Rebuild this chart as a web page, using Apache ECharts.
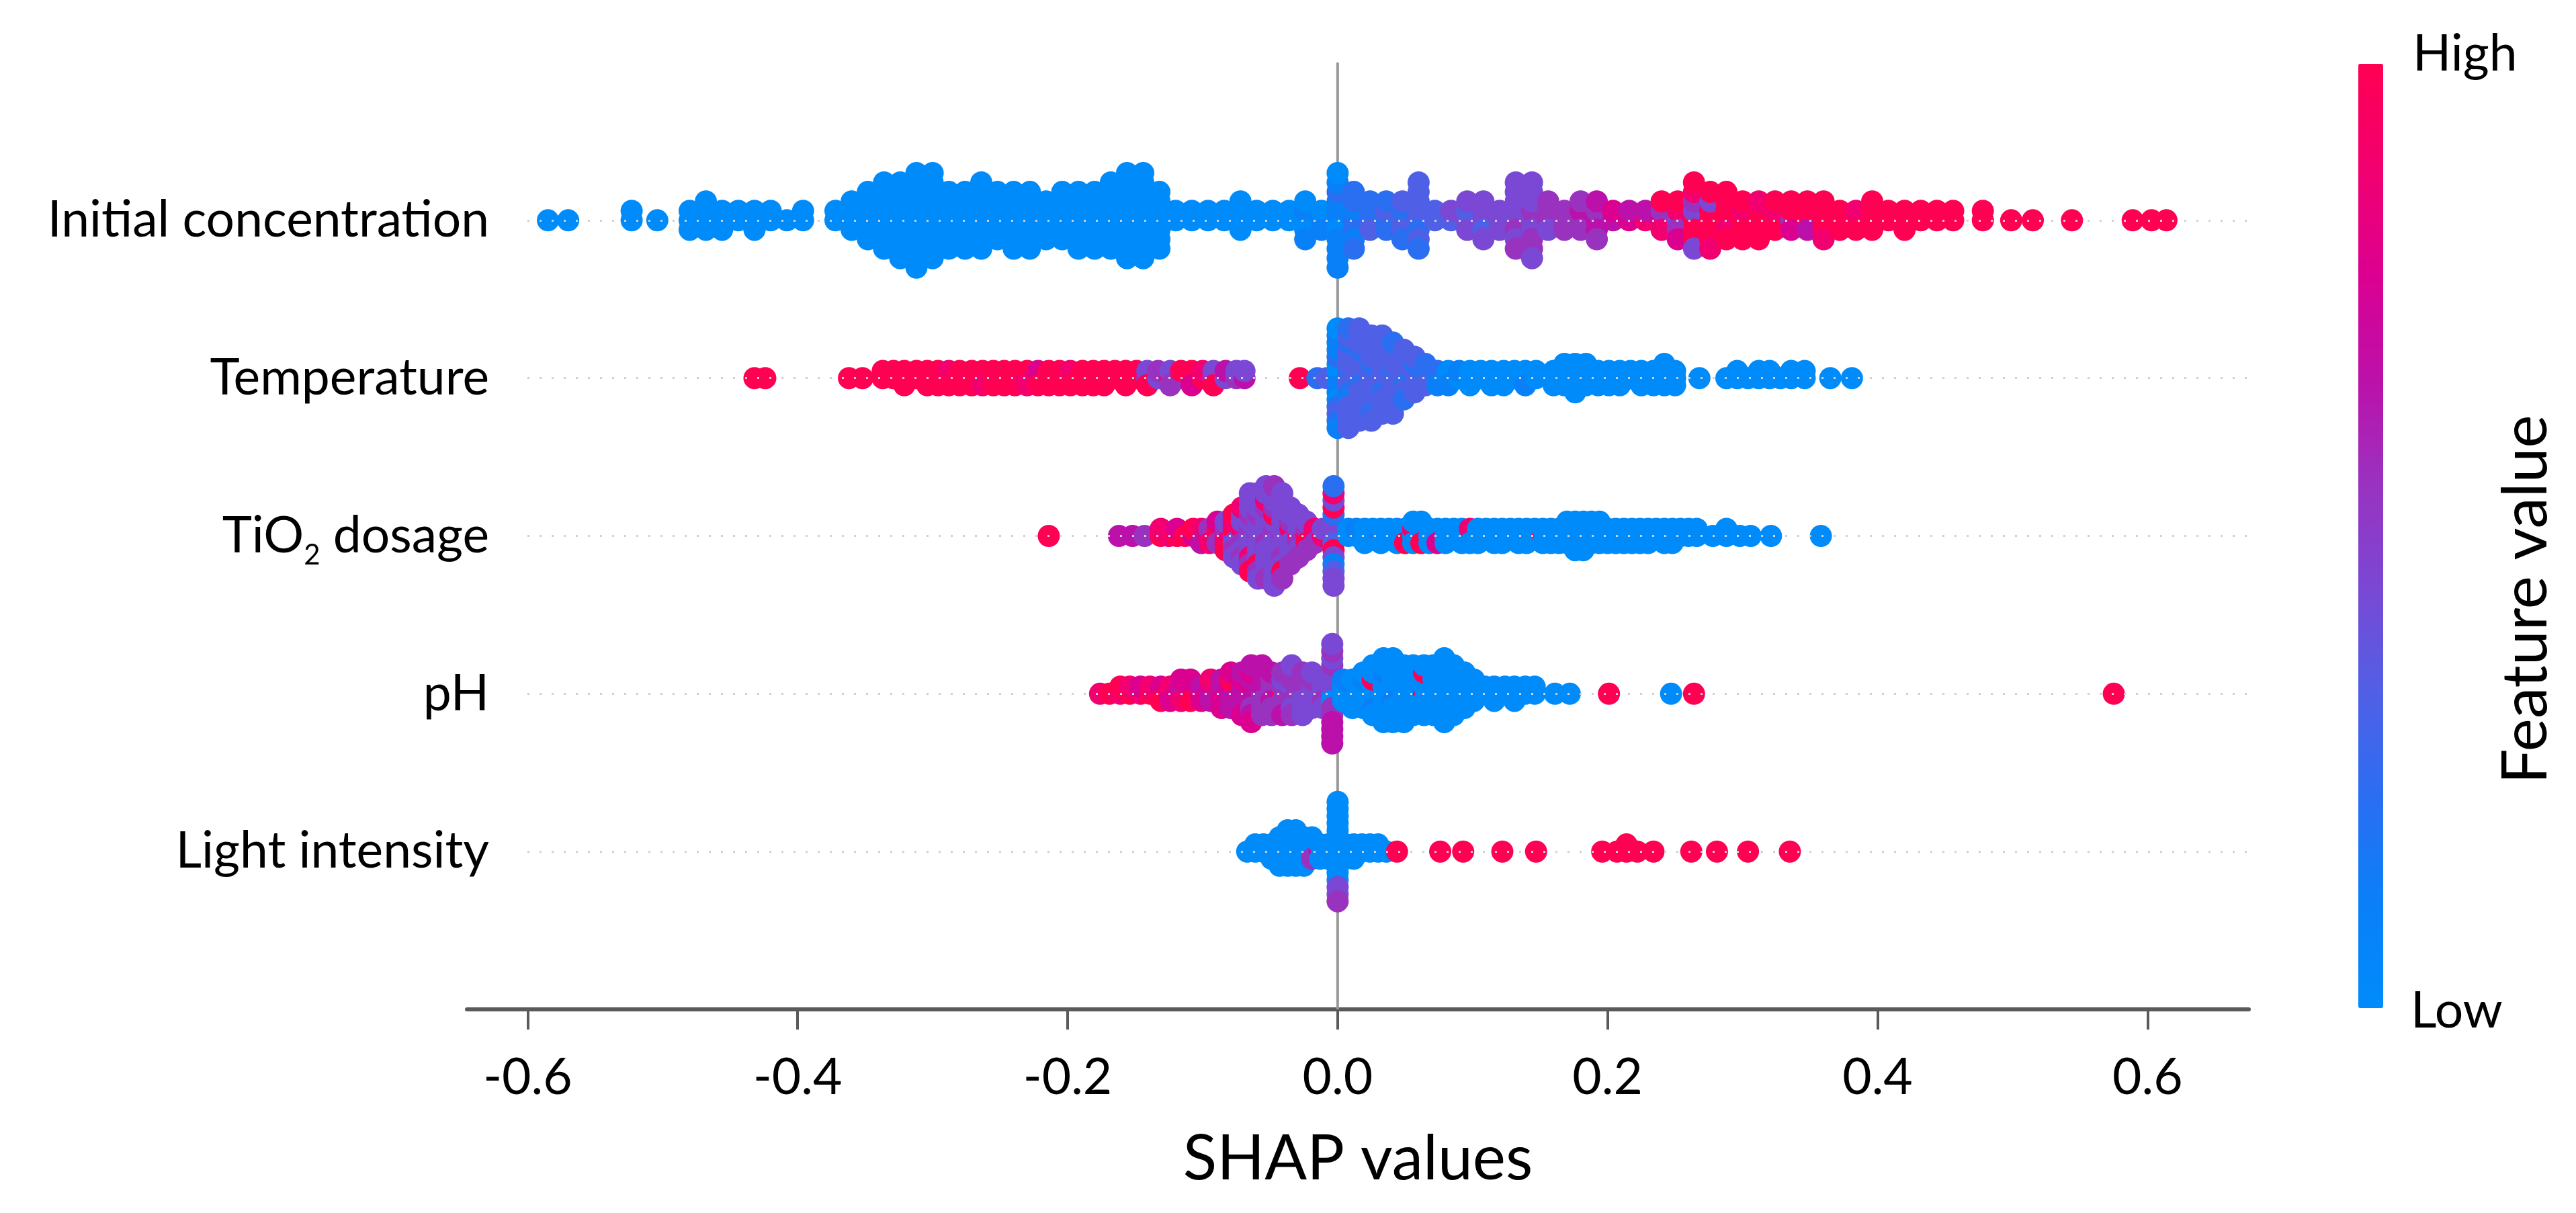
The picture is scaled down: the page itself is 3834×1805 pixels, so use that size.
<!DOCTYPE html>
<html><head><meta charset="utf-8">
<script src="https://cdn.jsdelivr.net/npm/echarts@6/dist/echarts.min.js"></script>
<style>html,body{margin:0;padding:0;background:#fff}#main{width:3834px;height:1805px}</style>
</head><body><div id="main"></div>
<script>
// Feature names, top to bottom
const features = ['Initial concentration', 'Temperature', 'TiO2 dosage', 'pH', 'Light intensity'];
// X tick labels
const xTicks = [-0.6, -0.4, -0.2, 0, 0.2, 0.4, 0.6];
// Colour scale Low (0) -> High (9)
const featureColors = ['#008bfb', '#0a80f8', '#2a6ef2', '#5060e6', '#7a48d4', '#9a32c0', '#bc10aa', '#dc0090', '#f20070', '#ff0052'];

// Each entry: [SHAP value, [feature value level (0 low .. 9 high) of every sample with that SHAP value]]
const initialConcentration = [
  [-0.585,[0]],[-0.570,[0]],[-0.523,[0,0]],[-0.504,[0]],
  [-0.480,[0,0,0]],[-0.468,[0,0,0,0]],[-0.456,[0,0,0]],[-0.444,[0,0]],[-0.432,[0,0,0]],[-0.420,[0,0]],
  [-0.408,[0]],[-0.396,[0,0]],
  [-0.372,[0,0]],[-0.360,[0,0,0,0]],[-0.348,[0,0,0,0,0,0]],[-0.336,[0,0,0,0,0,0,0,0]],
  [-0.324,[0,0,0,0,0,0,0,0,0]],[-0.312,[0,0,0,0,0,0,0,0,0,0,0]],[-0.300,[0,0,0,0,0,0,0,0,0,0]],
  [-0.288,[0,0,0,0,0,0,0]],[-0.276,[0,0,0,0,0,0,0]],[-0.264,[0,0,0,0,0,0,0,0]],[-0.252,[0,0,0,0,0,0]],
  [-0.240,[0,0,0,0,0,0,0]],[-0.228,[0,0,0,0,0,0,0]],[-0.216,[0,0,0,0,0]],[-0.204,[0,0,0,0,0,0]],
  [-0.192,[0,0,0,0,0,0,0]],[-0.180,[0,0,0,0,0,0,0]],[-0.168,[0,0,0,0,0,0,0,0]],[-0.156,[0,0,0,0,0,0,0,0,0,0]],
  [-0.144,[0,0,0,0,0,0,0,0,0,0]],[-0.132,[0,0,0,0,0,0,0]],
  [-0.120,[0,0]],[-0.108,[0,0]],[-0.096,[0,0]],[-0.084,[0,0]],[-0.072,[0,0,0,0]],[-0.060,[0,0]],
  [-0.048,[0,0]],[-0.036,[0,0]],[-0.024,[0,1,0,0,1]],[-0.012,[1,0,1]],
  [0.000,[1,1,0,1,1,2,1,1,1,0,1]],
  [0.012,[2,1,2,2,1,2,2]],[0.024,[2,2,3,2]],[0.036,[2,3,2,2]],[0.048,[3,2,3,3,2]],[0.060,[3,3,2,3,3,3,2,3]],
  [0.072,[3,3]],[0.084,[3,4]],[0.096,[4,3,4,4]],[0.108,[4,4,3,4,4]],[0.120,[4,4,4]],
  [0.132,[4,4,5,4,4,4,5,4]],[0.144,[4,5,4,4,5,4,5,4,4]],[0.156,[5,5,4,5]],[0.168,[5,5,5]],
  [0.180,[5,6,5,5]],[0.192,[6,5,6,6,5]],[0.204,[6,7]],[0.216,[7,6]],[0.228,[8,6]],
  [0.240,[7,5,8,9]],[0.252,[4,8,5,9,7]],[0.264,[9,4,9,5,9,8,4,9]],[0.276,[9,9,9,4,9,9,8]],
  [0.288,[9,9,8,9,9,9]],[0.300,[9,8,9,9,9]],[0.312,[9,9,9,8,9]],[0.324,[9,8,9,9]],
  [0.336,[5,9,7,9]],[0.348,[9,9,6,9]],[0.360,[9,9,9,9,8]],[0.372,[9,9,9]],[0.384,[9,8,9]],
  [0.396,[9,9,9,9]],[0.408,[9,9]],[0.420,[9,9,9]],[0.432,[9,9]],[0.444,[9,9]],[0.456,[9,9]],
  [0.478,[9,9]],[0.499,[9]],[0.515,[9]],[0.544,[9]],[0.589,[9]],[0.603,[9]],[0.614,[9]]
];

const temperature = [
  [-0.432,[9]],[-0.424,[9]],[-0.362,[9]],[-0.352,[9]],
  [-0.337,[9,9]],[-0.329,[9,9]],[-0.321,[9,9,9]],[-0.312,[9,9]],[-0.304,[9,9,9]],[-0.296,[9,9,9]],
  [-0.288,[9,8,9]],[-0.280,[9,9,9]],[-0.271,[9,9,9]],[-0.263,[9,9,8]],[-0.255,[9,9,9]],[-0.247,[8,9,9]],
  [-0.239,[9,9,9]],[-0.230,[7,9,8]],[-0.222,[8,7,9]],[-0.214,[9,9,9]],[-0.206,[9,9,9]],[-0.198,[9,8,9]],
  [-0.189,[9,9,9]],[-0.181,[9,9,9]],[-0.173,[9,9,9]],[-0.165,[9,9]],[-0.157,[9,9,9]],[-0.149,[9,9]],
  [-0.141,[5,4,9]],[-0.133,[4,5]],[-0.124,[9,4,5]],[-0.116,[5,9]],[-0.108,[9,9,7]],[-0.100,[9,8]],
  [-0.092,[5,4,9]],[-0.083,[4,6]],[-0.075,[5,4]],[-0.069,[6,4]],
  [-0.028,[9]],[-0.015,[2]],[-0.008,[3]],
  [0.000,[1,0,1,0,1,2,0,1,2,1,3,1,2,0,1]],
  [0.008,[3,2,3,3,2,3,1,3,3,2,3,3,3,2,3]],
  [0.016,[3,3,2,3,3,3,3,2,3,3,3,3,3,3]],
  [0.025,[3,3,3,2,3,3,3,3,3,3,2,3,3]],
  [0.033,[3,3,3,3,2,3,3,3,3,3,3,3]],
  [0.041,[3,2,3,3,3,3,3,3,3,2,3]],
  [0.049,[3,3,2,3,3,3,2,3]],[0.057,[2,3,3,2,3,3]],[0.065,[2,2,3,2]],[0.074,[1,2,1]],
  [0.082,[0,0,1]],[0.090,[0,1]],[0.098,[0,0,0]],[0.106,[0,0]],[0.114,[1,0,0]],[0.123,[0,0,0]],
  [0.131,[0,0]],[0.139,[0,0,1]],[0.147,[0,0]],
  [0.160,[0,0,0]],[0.168,[0,0,0,0]],[0.176,[0,0,0,0,0]],[0.184,[0,0,0,0]],[0.193,[0,0,0]],
  [0.201,[0,0,0]],[0.209,[0,0,0]],[0.217,[0,0]],[0.225,[0,0,0]],[0.234,[0,0,0]],[0.242,[0,0,0,0]],
  [0.250,[0,0,0]],[0.268,[0]],
  [0.288,[0]],[0.296,[0,0]],[0.304,[0]],[0.312,[0,0]],[0.320,[0,0]],[0.328,[0]],[0.336,[0,0]],[0.346,[0,0]],
  [0.365,[0]],[0.381,[0]]
];

const tio2Dosage = [
  [-0.214,[9]],
  [-0.162,[6]],[-0.152,[6]],[-0.143,[5]],
  [-0.131,[9,8]],[-0.125,[8]],[-0.119,[9,7]],[-0.113,[9]],[-0.107,[7,9]],[-0.101,[9,8,6]],[-0.095,[9,5,8]],
  [-0.089,[8,9,5,7]],
  [-0.083,[9,5,8,4,9]],
  [-0.077,[5,9,4,8,5,9,4]],
  [-0.071,[4,8,5,4,4,4,5,8,4]],
  [-0.065,[4,5,4,4,4,5,8,4,5,4,9,4]],
  [-0.059,[5,4,4,4,4,5,4,4,9,4,5,4,4]],
  [-0.053,[4,4,5,4,4,4,4,5,4,8,4,4,5,4]],
  [-0.047,[4,5,4,4,4,9,4,5,4,4,4,4,4,5,4]],
  [-0.041,[5,4,4,4,4,4,5,4,4,4,9,4,5]],
  [-0.035,[4,8,4,5,4,4,4,4,5]],
  [-0.029,[9,4,5,4,4,4,5]],
  [-0.023,[8,5,9,4,5]],
  [-0.017,[9,8,5]],
  [-0.011,[8,4]],
  [-0.003,[4,4,3,4,9,2,4,9,1,4,3,8,4,2,4]],
  [0.008,[0,0]],[0.014,[0,1]],[0.020,[0,0,0]],[0.026,[0,0]],[0.032,[1,0,0]],[0.038,[0,0]],
  [0.044,[0,0,0]],[0.050,[0,0,9]],[0.056,[0,8,0,0]],[0.062,[0,0,9,0]],[0.068,[0,0,0]],[0.074,[0,0,7]],
  [0.080,[0,0,0]],[0.086,[0,0]],[0.092,[0,0,0]],[0.098,[0,8,0]],[0.104,[0,0,0]],[0.110,[0,0]],
  [0.116,[0,0,0]],[0.122,[0,0,0]],[0.128,[0,0]],[0.134,[0,0,0]],[0.140,[0,0,0]],[0.146,[0,0]],
  [0.152,[9,0,0]],[0.158,[0,0,0]],[0.164,[0,0,0]],[0.170,[0,0,0,0]],[0.176,[0,0,0,0,0]],
  [0.182,[0,0,0,0,0]],[0.188,[0,0,0,0]],[0.194,[0,0,0,0]],[0.200,[0,0,0]],[0.206,[0,0,0]],
  [0.212,[0,0,0]],[0.218,[0,0,0]],[0.224,[0,0,0]],[0.230,[0,0,0]],[0.236,[0,0]],[0.242,[0,0,0]],
  [0.248,[0,0,0]],[0.254,[0,0]],[0.260,[0,0]],[0.266,[0,0]],
  [0.278,[0]],[0.288,[0,0]],[0.298,[0]],[0.306,[0]],[0.321,[0]],[0.358,[0]]
];

const pH = [
  [-0.176,[8]],[-0.169,[9]],[-0.161,[8,9]],[-0.154,[9,8]],[-0.146,[8,7]],[-0.139,[9,8]],
  [-0.131,[8,7,9]],[-0.124,[7,8,7]],[-0.116,[7,6,8,7]],[-0.109,[6,7,9,7]],[-0.101,[7,6,7]],
  [-0.094,[6,7,6,8]],[-0.086,[9,6,7,6,7]],[-0.079,[6,7,6,9,6,7]],[-0.071,[7,6,6,7,6,6,7]],
  [-0.064,[6,7,6,6,5,7,6,6,7]],[-0.056,[5,6,5,6,5,6,5,6]],[-0.049,[5,5,6,5,5,6,5]],
  [-0.041,[9,5,5,4,5,5,6]],[-0.034,[5,4,5,5,4,5,5,4]],[-0.026,[4,5,4,5,4,5,4]],
  [-0.019,[5,4,4,5,4,4]],[-0.011,[4,4,5,4,4]],
  [-0.004,[1,4,0,4,5,4,5,5,6,4,6,5,6,4,6]],
  [0.004,[1,0,0,1]],[0.011,[0,1,0,0,0]],[0.019,[0,0,0,1,0,0]],[0.026,[0,0,0,9,1,0,0,0]],
  [0.034,[0,0,0,0,0,1,0,0,0,0]],[0.041,[0,0,1,0,0,0,0,0,0,0]],[0.049,[0,0,0,0,0,0,0,0,0]],
  [0.056,[0,0,0,0,0,0,0,0]],[0.064,[9,0,0,0,0,9,0,0]],[0.071,[0,0,0,0,0,0,0,0]],
  [0.079,[0,0,0,0,0,0,0,0,0,0]],[0.086,[0,0,0,0,0,0,0,0]],[0.094,[0,0,0,0,0,0]],
  [0.101,[0,0,0,0]],[0.109,[0,0]],[0.116,[0,0,0]],[0.124,[0,0]],[0.131,[0,0,0]],[0.139,[0,0]],[0.146,[0,0]],
  [0.161,[0]],[0.172,[0]],[0.201,[9]],[0.247,[0]],[0.264,[9]],[0.575,[9]]
];

const lightIntensity = [
  [-0.067,[0]],[-0.061,[0,0]],[-0.055,[0,0]],[-0.049,[0,0,0]],[-0.043,[0,0,0,0,0]],
  [-0.037,[0,0,0,0,0,0]],[-0.031,[0,0,0,0,0,0]],[-0.025,[0,0,0,0,0]],[-0.019,[0,0,5,0]],
  [-0.013,[7,0,0]],[-0.007,[0,0,0]],
  [0.000,[0,0,0,0,0,0,0,0,0,0,4,0,4,0,5]],
  [0.006,[0,0,0]],[0.012,[0,0,0]],[0.018,[0,0]],[0.024,[0,0]],[0.030,[0,0]],[0.036,[0]],
  [0.044,[9]],[0.076,[9]],[0.093,[9]],[0.122,[9]],[0.147,[9]],[0.196,[9]],[0.207,[9]],
  [0.214,[9,9]],[0.222,[9]],[0.234,[9]],[0.262,[9]],[0.281,[9]],[0.304,[9]],[0.335,[9]]
];

const featureData = [initialConcentration, temperature, tio2Dosage, pH, lightIntensity];

// SHAP-style beeswarm layering of samples that share a SHAP value
function beeswarm(groups, pos) {
  const pts = [];
  let maxUp = 0;
  groups.forEach(([x, levels]) => {
    levels.forEach((lv, layer) => {
      const ys = Math.ceil(layer / 2) * ((layer % 2) * 2 - 1);
      if (ys > maxUp) maxUp = ys;
      pts.push([x, ys, lv]);
    });
  });
  const k = 0.9 * 0.4 / (maxUp + 1);
  return pts.map(([x, ys, lv]) => [x, pos + ys * k, lv]);
}

const FONT = 'Lato, "Open Sans", sans-serif';
const n = features.length;
const scatterSeries = featureData.map((groups, i) => ({
  type: 'scatter',
  name: features[i],
  data: beeswarm(groups, n - 1 - i),
  symbol: 'circle',
  symbolSize: 33,
  itemStyle: { opacity: 1 },
  z: 2,
  silent: true
}));

const chart = echarts.init(document.getElementById('main'));
chart.setOption({
  animation: false,
  backgroundColor: '#ffffff',
  grid: { left: 695, right: 487, top: 93, bottom: 303 },
  xAxis: {
    type: 'value', min: -0.645, max: 0.675,
    axisLine: { show: true, onZero: false, lineStyle: { color: '#5a5a5a', width: 6 } },
    axisTick: { show: true, length: 30, customValues: xTicks, lineStyle: { color: '#5a5a5a', width: 4 } },
    axisLabel: { customValues: xTicks, formatter: v => Number(v).toFixed(1), fontFamily: FONT, fontSize: 75, color: '#000', margin: 64 },
    splitLine: { show: false },
    name: 'SHAP values', nameLocation: 'middle', nameGap: 176,
    nameTextStyle: { fontFamily: FONT, fontSize: 93, color: '#000' }
  },
  yAxis: {
    type: 'value', min: -1, max: n, interval: 1, z: 3,
    axisLine: { show: false }, axisTick: { show: false },
    splitLine: { show: true, showMinLine: false, showMaxLine: false, lineStyle: { color: '#d0d0d0', width: 3, type: [3, 15] } },
    axisLabel: {
      customValues: [0, 1, 2, 3, 4],
      formatter: v => {
        const name = features[n - 1 - v];
        return name ? name.replace('TiO2', 'TiO{sub|2}') : '';
      },
      fontFamily: FONT, fontSize: 75, color: '#000', lineHeight: 100,
      backgroundColor: '#ffffff', padding: [0, 54, 0, 0], margin: -87,
      rich: { sub: { fontFamily: FONT, fontSize: 42, lineHeight: 42, verticalAlign: 'bottom', color: '#000' } }
    }
  },
  visualMap: {
    type: 'continuous', min: 0, max: 9, dimension: 2,
    seriesIndex: [1, 2, 3, 4, 5],
    orient: 'vertical', left: 3510, top: 95, itemWidth: 37, itemHeight: 1405,
    calculable: false, hoverLink: false, padding: 0,
    inRange: { color: featureColors }
  },
  graphic: [
    { type: 'text', x: 3591, y: 81, style: { text: 'High', font: '75px ' + FONT, fill: '#000', textAlign: 'left', textVerticalAlign: 'middle', align: 'left', verticalAlign: 'middle' } },
    { type: 'text', x: 3588, y: 1505, style: { text: 'Low', font: '75px ' + FONT, fill: '#000', textAlign: 'left', textVerticalAlign: 'middle', align: 'left', verticalAlign: 'middle' } },
    { type: 'text', x: 3760, y: 892, rotation: Math.PI / 2, style: { text: 'Feature value', font: '93px ' + FONT, fill: '#000', textAlign: 'center', textVerticalAlign: 'middle', align: 'center', verticalAlign: 'middle' } }
  ],
  series: [
    { type: 'line', data: [[0, -1], [0, n]], symbol: 'none', silent: true, z: 1,
      lineStyle: { color: '#999999', width: 4 } }
  ].concat(scatterSeries)
});
</script></body></html>
